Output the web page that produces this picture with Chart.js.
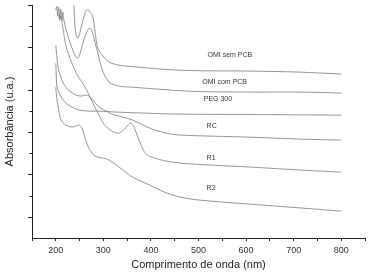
<!DOCTYPE html>
<html lang="pt">
<head>
  <meta charset="UTF-8">
  <title>Espectros de absorbância</title>
  <script src="https://cdn.jsdelivr.net/npm/chart.js"></script>
  <style>
    html, body { margin: 0; padding: 0; background: #fff; }
    #wrap { width: 371px; height: 275px; }
  </style>
</head>
<body>
  <div id="wrap"><canvas id="chart" width="371" height="275"></canvas></div>
  <script>
    // wavelength (nm) / absorbance (u.a.) per sample
    const omiSemX = [236, 238, 240, 243, 246.5, 251, 257, 263, 268, 272, 277, 280, 287, 293, 301, 312, 333, 361, 460, 608, 713, 800];
    const omiSemY = [11.5, 10.99, 10.05, 9.55, 9.43, 9.72, 10.28, 10.71, 10.78, 10.66, 10.52, 10.19, 9.06, 8.77, 8.54, 8.30, 8.16, 8.09, 7.92, 7.88, 7.83, 7.74];

    const omiComX = [200, 202, 204, 206, 208.5, 210.6, 212.7, 214.8, 217, 223, 232, 240, 245, 249, 259, 265.5, 271, 277, 282, 287, 298, 312, 333, 361, 481, 608, 713, 800];
    const omiComY = [10.75, 10.94, 10.47, 10.9, 10.38, 10.8, 10.28, 10.66, 10.28, 9.72, 9.10, 8.63, 8.49, 8.58, 9.34, 9.76, 9.91, 9.72, 9.25, 8.87, 7.92, 7.36, 7.17, 7.12, 6.93, 6.89, 6.89, 6.84];

    const pegX = [200, 201, 202, 206, 213, 221, 234, 249, 270, 291, 333, 460, 608, 800];
    const pegY = [8.25, 7.69, 7.22, 6.89, 6.60, 6.37, 6.18, 6.04, 5.99, 5.99, 5.94, 5.85, 5.83, 5.80];

    const rcX = [200, 202, 206, 213, 221, 232, 242, 253, 263, 270, 278, 291, 306, 318, 361, 397, 432, 460, 608, 713, 800];
    const rcY = [9.10, 8.63, 7.92, 7.45, 7.12, 6.89, 6.75, 6.70, 6.75, 6.70, 6.51, 6.18, 5.99, 5.85, 5.57, 5.19, 4.95, 4.86, 4.76, 4.67, 4.62];

    const r1X = [206, 208.5, 210.6, 215, 221, 227.5, 234, 242, 249, 259, 270, 280, 291, 301, 312, 322, 333, 344, 356, 361, 367, 375, 384, 392, 407, 428, 460, 520, 608, 713, 800];
    const r1Y = [10.57, 10.28, 10.47, 9.91, 9.10, 8.63, 8.25, 7.83, 7.55, 7.22, 6.75, 6.27, 5.80, 5.38, 5.14, 5.00, 4.95, 5.14, 5.42, 5.38, 5.09, 4.62, 4.15, 3.92, 3.78, 3.65, 3.54, 3.45, 3.35, 3.21, 3.11];

    const r2X = [200, 202, 206, 211, 221, 234, 242, 249, 255, 263, 274, 287, 301, 312, 333, 361, 397, 428, 460, 502, 608, 713, 800];
    const r2Y = [7.12, 6.60, 6.04, 5.57, 5.33, 5.24, 5.28, 5.33, 5.19, 4.62, 4.06, 3.82, 3.77, 3.68, 3.35, 2.88, 2.50, 2.17, 1.94, 1.79, 1.60, 1.42, 1.27];

    const seriesNames = ['OMI sem PCB', 'OMI com PCB', 'PEG 300', 'RC', 'R1', 'R2'];
    const seriesX = [omiSemX, omiComX, pegX, rcX, r1X, r2X];
    const seriesY = [omiSemY, omiComY, pegY, rcY, r1Y, r2Y];

    // in-plot labels (data coordinates)
    const labelTexts = ['OMI sem PCB', 'OMI com PCB', 'PEG 300', 'RC', 'R1', 'R2'];
    const labelX = [519, 508, 511, 517, 517, 517];
    const labelY = [8.63, 7.36, 6.56, 5.28, 3.77, 2.36];

    const xTicks = [150, 200, 250, 300, 350, 400, 450, 500, 550, 600, 650, 700, 750, 800, 850];

    const lineColor = '#7a7a7a';
    const axisColor = '#222';

    const datasets = seriesNames.map((name, i) => ({
      label: name,
      data: seriesX[i].map((x, j) => ({ x: x, y: seriesY[i][j] })),
      borderColor: lineColor,
      borderWidth: 0.8,
      pointRadius: 0,
      tension: 0.3,
      fill: false
    }));

    const extras = {
      id: 'extras',
      afterDatasetsDraw(chart) {
        const { ctx, scales: { x, y } } = chart;
        ctx.save();
        // y ticks: long on odd values, short on even
        ctx.strokeStyle = axisColor;
        ctx.lineWidth = 1;
        for (let v = 1; v <= 11; v++) {
          const py = Math.round(y.getPixelForValue(v)) + 0.5;
          const len = v % 2 ? 4 : 2.5;
          ctx.beginPath();
          ctx.moveTo(x.left - len, py);
          ctx.lineTo(x.left, py);
          ctx.stroke();
        }
        // curve labels
        ctx.fillStyle = '#333';
        ctx.font = '7px "Liberation Sans", Arial, sans-serif';
        ctx.textAlign = 'left';
        ctx.textBaseline = 'middle';
        labelTexts.forEach((t, i) => {
          ctx.fillText(t, x.getPixelForValue(labelX[i]), y.getPixelForValue(labelY[i]));
        });
        ctx.restore();
      }
    };

    new Chart(document.getElementById('chart'), {
      type: 'line',
      data: { datasets: datasets },
      options: {
        responsive: false,
        animation: false,
        layout: { padding: { left: 0, top: 5, right: 6, bottom: 0 } },
        plugins: { legend: { display: false }, tooltip: { enabled: false } },
        scales: {
          x: {
            type: 'linear',
            min: 150,
            max: 850,
            afterBuildTicks: s => { s.ticks = xTicks.map(v => ({ value: v })); },
            afterFit: s => { s.height = 37; },
            ticks: {
              autoSkip: false,
              maxRotation: 0,
              padding: 4,
              color: '#333',
              font: { family: '"Liberation Sans", Arial, sans-serif', size: 9 },
              callback: v => (v % 100 === 0 && v >= 200 && v <= 800) ? v : ''
            },
            grid: { drawOnChartArea: false, drawTicks: true, tickLength: 3, color: axisColor },
            border: { display: true, color: axisColor, width: 1 },
            title: {
              display: true,
              text: 'Comprimento de onda (nm)',
              color: '#222',
              font: { family: '"Liberation Sans", Arial, sans-serif', size: 11 },
              padding: { top: 4, bottom: 3 }
            }
          },
          y: {
            type: 'linear',
            min: 0,
            max: 11,
            afterFit: s => { s.width = 32; },
            ticks: { display: false, stepSize: 1 },
            grid: { display: false },
            border: { display: true, color: axisColor, width: 1 },
            title: {
              display: true,
              text: 'Absorbância (u.a.)',
              color: '#222',
              font: { family: '"Liberation Sans", Arial, sans-serif', size: 11 },
              padding: { top: 3, bottom: 0 }
            }
          }
        }
      },
      plugins: [extras]
    });
  </script>
</body>
</html>
